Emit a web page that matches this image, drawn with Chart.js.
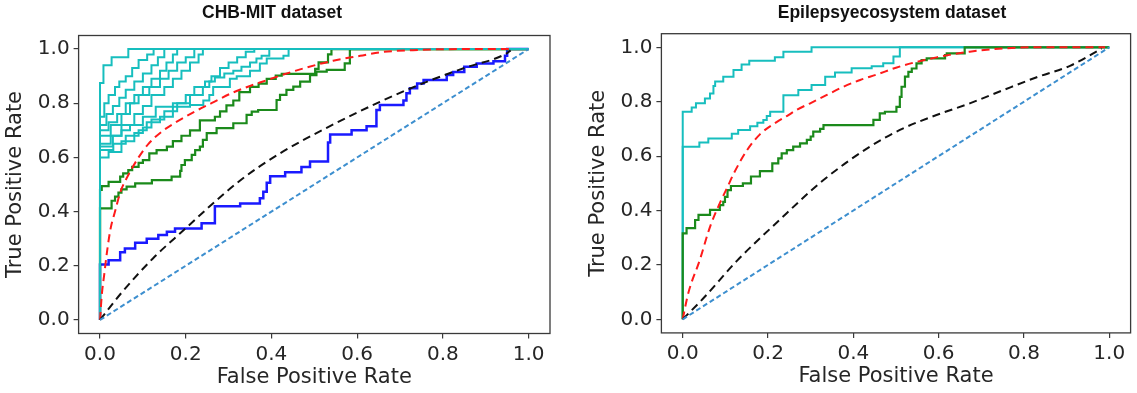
<!DOCTYPE html>
<html>
<head>
<meta charset="utf-8">
<script src="https://cdn.jsdelivr.net/npm/chart.js@4.4.1/dist/chart.umd.min.js"></script>
<style>
  html, body { margin: 0; padding: 0; background: #fff; }
  #wrap { position: relative; width: 1137px; height: 393px; overflow: hidden; }
  canvas { position: absolute; top: 0; }
  .ttl {
    position: absolute; top: 2px; font: bold 17.5px "Liberation Sans", Arial, sans-serif;
    color: #111; white-space: nowrap; transform: translateX(-50%);
  }
</style>
</head>
<body>
<div id="wrap">
  <canvas id="chb" width="570" height="393" style="left:0;width:570px;height:393px"></canvas>
  <canvas id="eco" width="567" height="393" style="left:570px;width:567px;height:393px"></canvas>
  <div class="ttl" style="left:272px">CHB-MIT dataset</div>
  <div class="ttl" style="left:892px">Epilepsyecosystem dataset</div>
</div>
<script>
/* ── 공통 축 눈금 ─────────────────────────── */
const TICKS = [0, 0.2, 0.4, 0.6, 0.8, 1.0];

/* ── CHB-MIT : 환자별 ROC (계단형, [fpr, tpr]) ── */
const chbCyan1 = [[0,0],[0,0.83],[0.008,0.875],[0.027,0.94],[0.066,0.97],[0.09,1.0],[1,1]];
const chbCyan2 = [[0,0],[0,0.72],[0.01,0.75],[0.02,0.8],[0.035,0.83],[0.045,0.86],[0.06,0.88],[0.075,0.9],[0.09,0.93],[0.11,0.96],[0.125,0.98],[0.14,1.0],[1,1]];
const chbCyan3 = [[0,0],[0,0.70],[0.015,0.72],[0.03,0.76],[0.045,0.79],[0.06,0.82],[0.08,0.85],[0.1,0.88],[0.12,0.91],[0.135,0.94],[0.15,0.97],[0.16,1.0],[1,1]];
const chbCyan4 = [[0,0],[0,0.65],[0.02,0.7],[0.04,0.73],[0.06,0.76],[0.08,0.8],[0.1,0.83],[0.12,0.86],[0.14,0.89],[0.155,0.92],[0.17,0.95],[0.18,0.98],[0.19,1.0],[1,1]];
const chbCyan5 = [[0,0],[0,0.62],[0.025,0.68],[0.05,0.72],[0.07,0.76],[0.09,0.8],[0.115,0.83],[0.14,0.86],[0.16,0.89],[0.18,0.92],[0.2,0.95],[0.22,0.97],[0.245,1.0],[1,1]];
const chbCyan6 = [[0,0],[0,0.60],[0.03,0.64],[0.05,0.68],[0.08,0.72],[0.1,0.76],[0.12,0.79],[0.15,0.83],[0.17,0.86],[0.19,0.89],[0.21,0.92],[0.23,0.95],[0.24,0.98],[0.25,1.0],[1,1]];
const chbCyan7 = [[0,0],[0,0.63],[0.025,0.65],[0.05,0.68],[0.07,0.70],[0.1,0.72],[0.13,0.75],[0.17,0.787],[0.21,0.80],[0.24,0.83],[0.255,0.86],[0.268,0.88],[0.29,0.895],[0.311,0.91],[0.33,0.92],[0.35,0.935],[0.365,0.95],[0.377,0.965],[0.395,0.975],[0.404,1.0],[1,1]];
const chbCyan8 = [[0,0],[0,0.58],[0.031,0.627],[0.06,0.65],[0.09,0.68],[0.109,0.70],[0.14,0.73],[0.17,0.75],[0.21,0.787],[0.241,0.793],[0.255,0.81],[0.264,0.83],[0.303,0.86],[0.319,0.89],[0.35,0.9],[0.373,0.92],[0.389,0.947],[0.428,0.965],[0.44,0.975],[0.458,1.0],[1,1]];
const chbCyan9 = [[0,0],[0,0.56],[0.02,0.6],[0.05,0.62],[0.08,0.66],[0.1,0.69],[0.12,0.71],[0.15,0.74],[0.18,0.77],[0.2,0.8],[0.22,0.83],[0.245,0.86],[0.26,0.88],[0.28,0.9],[0.3,0.93],[0.32,0.95],[0.34,0.97],[0.36,0.99],[0.38,1.0],[1,1]];
const chbGreen1 = [[0,0],[0,0.443],[0.004,0.48],[0.02,0.494],[0.047,0.51],[0.054,0.529],[0.066,0.541],[0.075,0.553],[0.09,0.565],[0.1,0.58],[0.115,0.59],[0.132,0.615],[0.156,0.627],[0.17,0.64],[0.19,0.66],[0.21,0.68],[0.233,0.70],[0.268,0.737],[0.28,0.75],[0.295,0.77],[0.311,0.792],[0.325,0.81],[0.35,0.841],[0.37,0.86],[0.389,0.872],[0.41,0.89],[0.424,0.902],[0.502,0.908],[0.51,0.927],[0.532,0.951],[0.54,0.98],[0.548,1.0],[1,1]];
const chbGreen2 = [[0,0],[0,0.381],[0.027,0.412],[0.035,0.44],[0.043,0.455],[0.05,0.47],[0.062,0.482],[0.082,0.492],[0.121,0.504],[0.167,0.516],[0.187,0.529],[0.19,0.55],[0.198,0.572],[0.214,0.59],[0.222,0.609],[0.233,0.627],[0.24,0.64],[0.249,0.665],[0.272,0.69],[0.311,0.708],[0.342,0.726],[0.354,0.757],[0.369,0.769],[0.412,0.775],[0.42,0.812],[0.435,0.831],[0.451,0.849],[0.467,0.861],[0.49,0.88],[0.505,0.904],[0.529,0.917],[0.571,0.923],[0.583,0.947],[0.591,1.0],[1,1]];
const chbBlue = [[0,0],[0,0.19],[0.02,0.205],[0.047,0.22],[0.058,0.25],[0.082,0.264],[0.109,0.285],[0.136,0.30],[0.156,0.314],[0.175,0.326],[0.237,0.338],[0.268,0.357],[0.327,0.42],[0.373,0.43],[0.381,0.449],[0.389,0.473],[0.397,0.506],[0.432,0.53],[0.47,0.545],[0.49,0.565],[0.532,0.585],[0.537,0.655],[0.587,0.685],[0.622,0.70],[0.645,0.715],[0.653,0.775],[0.708,0.793],[0.715,0.81],[0.723,0.837],[0.74,0.855],[0.755,0.873],[0.809,0.886],[0.824,0.904],[0.85,0.915],[0.879,0.935],[0.918,0.947],[0.945,0.955],[0.95,0.975],[0.957,1.0],[1,1]];
/* 평균 곡선 (점선) */
const chbRed   = [[0,0],[0.004,0.09],[0.01,0.17],[0.017,0.26],[0.025,0.34],[0.035,0.40],[0.047,0.47],[0.066,0.535],[0.09,0.6],[0.113,0.65],[0.144,0.695],[0.175,0.728],[0.222,0.77],[0.26,0.80],[0.311,0.84],[0.389,0.885],[0.467,0.925],[0.544,0.957],[0.607,0.975],[0.653,0.988],[0.73,0.996],[0.85,1.0],[0.96,1.0]];
const chbBlack = [[0,0],[0.05,0.1],[0.124,0.228],[0.187,0.32],[0.327,0.515],[0.42,0.615],[0.53,0.71],[0.653,0.805],[0.762,0.879],[0.85,0.93],[0.95,0.985],[0.958,0.995]];

/* ── Epilepsyecosystem ───────────────────────── */
const ecoCyan1 = [[0,0],[0,0.747],[0.021,0.763],[0.031,0.779],[0.052,0.794],[0.064,0.812],[0.072,0.83],[0.076,0.858],[0.095,0.874],[0.119,0.892],[0.138,0.917],[0.156,0.937],[0.216,0.951],[0.236,0.963],[0.302,0.984],[0.338,1.0],[1,1]];
const ecoCyan2 = [[0,0],[0,0.616],[0.039,0.634],[0.06,0.65],[0.115,0.665],[0.13,0.682],[0.158,0.696],[0.175,0.71],[0.189,0.723],[0.197,0.733],[0.205,0.747],[0.236,0.763],[0.271,0.824],[0.302,0.843],[0.334,0.861],[0.357,0.892],[0.396,0.907],[0.443,0.923],[0.47,0.93],[0.494,0.941],[0.509,0.966],[0.62,1.0],[1,1]];
const ecoGreen = [[0,0],[0,0.298],[0.009,0.316],[0.029,0.335],[0.037,0.365],[0.064,0.384],[0.087,0.402],[0.095,0.42],[0.099,0.432],[0.105,0.45],[0.113,0.475],[0.141,0.49],[0.16,0.5],[0.181,0.525],[0.21,0.545],[0.224,0.573],[0.232,0.592],[0.244,0.61],[0.259,0.622],[0.275,0.635],[0.291,0.647],[0.3,0.66],[0.306,0.672],[0.322,0.69],[0.33,0.70],[0.447,0.714],[0.462,0.733],[0.474,0.757],[0.501,0.763],[0.509,0.781],[0.513,0.818],[0.521,0.855],[0.529,0.892],[0.537,0.91],[0.548,0.922],[0.56,0.941],[0.572,0.953],[0.615,0.959],[0.619,0.971],[0.661,0.978],[0.665,1.0],[1,1]];
const ecoRed   = [[0,0],[0.013,0.096],[0.04,0.218],[0.064,0.34],[0.087,0.427],[0.106,0.49],[0.12,0.537],[0.15,0.62],[0.181,0.68],[0.22,0.725],[0.245,0.748],[0.267,0.77],[0.3,0.795],[0.338,0.825],[0.377,0.855],[0.416,0.88],[0.455,0.9],[0.5,0.925],[0.55,0.947],[0.595,0.963],[0.673,0.984],[0.752,0.996],[0.83,1.0],[0.99,1.0]];
const ecoBlack = [[0,0],[0.05,0.08],[0.127,0.215],[0.22,0.355],[0.33,0.512],[0.439,0.635],[0.517,0.702],[0.595,0.751],[0.673,0.794],[0.752,0.843],[0.83,0.89],[0.908,0.932],[0.982,0.995]];

/* 대각선 (chance) */
const chance = [[0,0],[1,1]];

const CYAN  = '#17bebe';
const GREEN = '#1b8a1b';
const BLUE  = '#1a1aff';

/* ── dataset 헬퍼 ─────────────────────────────── */
function toXY(pts) { return pts.map(([x, y]) => ({ x, y })); }

function stepSet(pts, color, width, order) {
  return {
    data: toXY(pts), borderColor: color, borderWidth: width,
    stepped: 'after', pointRadius: 0, fill: false, order,
    borderJoinStyle: 'miter',
  };
}

function dashSet(pts, color, width, dash, order, smooth) {
  return {
    data: toXY(pts), borderColor: color, borderWidth: width, borderDash: dash,
    pointRadius: 0, fill: false, order,
    cubicInterpolationMode: smooth ? 'monotone' : 'default', tension: 0,
  };
}

/* 네 변 테두리 */
const framePlugin = {
  id: 'frame',
  afterDraw(chart) {
    const { ctx, chartArea: a } = chart;
    ctx.save();
    ctx.strokeStyle = '#3a3a3a';
    ctx.lineWidth = 1.3;
    ctx.strokeRect(a.left, a.top, a.right - a.left, a.bottom - a.top);
    ctx.restore();
  },
};

/* ── 차트 생성 ───────────────────────────────── */
function makeChart(id, datasets, box) {
  const axis = (title, titlePad) => ({
    type: 'linear', min: -0.05, max: 1.05,
    afterBuildTicks: s => { s.ticks = TICKS.map(v => ({ value: v })); },
    ticks: {
      color: '#262626', font: { family: 'DejaVu Sans', size: 20 },
      padding: 4, callback: v => v.toFixed(1), maxRotation: 0,
    },
    grid: { display: true, drawOnChartArea: false, drawTicks: true, tickLength: 5, color: '#3a3a3a', lineWidth: 1.2 },
    border: { display: false },
    title: { display: true, text: title, color: '#262626', font: { family: 'DejaVu Sans', size: 21 }, padding: titlePad },
  });

  const x = axis('False Positive Rate', { top: 0, bottom: box.xPad });
  x.afterFit = s => { s.height = box.h - box.bottom; };
  const y = axis('True Positive Rate', { top: box.yPad, bottom: 0 });
  y.afterFit = s => { s.width = box.left; };

  return new Chart(document.getElementById(id), {
    type: 'line',
    data: { datasets },
    options: {
      responsive: false, animation: false,
      layout: { padding: { left: 0, top: box.top, right: box.w - box.right, bottom: 0 } },
      plugins: { legend: { display: false }, tooltip: { enabled: false } },
      scales: { x, y },
    },
    plugins: [framePlugin],
  });
}

const chbSets = [
  dashSet(chance,   '#3d8fcf', 2, [5, 3], 0, false),
  dashSet(chbBlack, '#111111', 2, [8, 5], 1, true),
  dashSet(chbRed,   '#ff1a1a', 2, [8, 5], 2, true),
  ...[chbCyan1, chbCyan2, chbCyan3, chbCyan4, chbCyan5, chbCyan6, chbCyan7, chbCyan8, chbCyan9]
      .map((c, i) => stepSet(c, CYAN, 2, 3 + i)),
  stepSet(chbGreen1, GREEN, 2.2, 20),
  stepSet(chbGreen2, GREEN, 2.2, 21),
  stepSet(chbBlue,   BLUE,  2.5, 22),
];

const ecoSets = [
  dashSet(chance,   '#3d8fcf', 2, [5, 3], 0, false),
  dashSet(ecoBlack, '#111111', 2, [8, 5], 1, true),
  dashSet(ecoRed,   '#ff1a1a', 2, [8, 5], 2, true),
  stepSet(ecoGreen, GREEN, 2.2, 3),
  stepSet(ecoCyan1, CYAN, 2, 4),
  stepSet(ecoCyan2, CYAN, 2, 5),
];

makeChart('chb', chbSets, { w: 570, h: 393, left: 78.6, right: 550, top: 35.5, bottom: 333.5, xPad: 2.4, yPad: 3.4 });
makeChart('eco', ecoSets, { w: 567, h: 393, left: 91.4, right: 560.6, top: 33.7, bottom: 332.9, xPad: 3.4, yPad: 16.4 });
</script>
</body>
</html>
